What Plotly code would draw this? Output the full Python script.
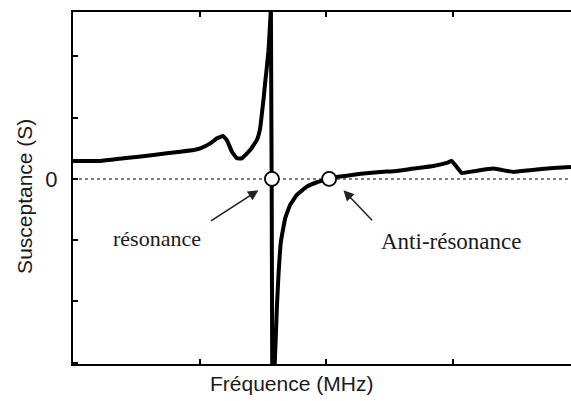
import plotly.graph_objects as go

# Frequency (arbitrary units, one unit per axis tick) and susceptance (arbitrary units)
freq = [0.0, 0.215, 0.40, 0.636, 0.847, 0.952, 1.005, 1.085, 1.137, 1.184, 1.215, 1.255,
        1.294, 1.334, 1.399, 1.452, 1.478, 1.492, 1.504, 1.517, 1.531, 1.544, 1.552, 1.563,
        1.573, 1.577, 1.593, 1.610, 1.623, 1.642, 1.676, 1.715, 1.768, 1.847, 1.926, 1.991,
        2.023, 2.084, 2.189, 2.242, 2.294, 2.425, 2.557, 2.688, 2.846, 2.952, 2.991,
        3.070, 3.162, 3.320, 3.478, 3.609, 3.793, 3.933]
susceptance = [0.293, 0.293, 0.337, 0.391, 0.445, 0.472, 0.500, 0.581, 0.663, 0.700, 0.635, 0.445,
               0.337, 0.337, 0.472, 0.635, 0.826, 1.070, 1.287, 1.559, 1.829, 2.101, 2.373, 2.76,
               -2.9, -3.40, -3.03, -2.106, -1.564, -1.021, -0.640, -0.423, -0.261, -0.125, -0.054, -0.016,
               0.0, 0.033, 0.060, 0.077, 0.088, 0.114, 0.130, 0.169, 0.212, 0.261, 0.293,
               0.098, 0.125, 0.169, 0.114, 0.142, 0.179, 0.195]

point_freq = [1.571, 2.023]
point_b = [0.0, 0.0]
point_names = ["résonance", "Anti-résonance"]

x_ticks = [0, 1, 2, 3]
y_ticks = [-3, -2, -1, 0, 1, 2]
y_ticktext = ["", "", "", "0", "", ""]

x_range = [0.0, 3.933]
y_range = [-3.021, 2.725]

fig = go.Figure()

# zero reference line
fig.add_trace(go.Scatter(x=x_range, y=[0, 0], mode="lines",
                         line=dict(color="#555555", width=1.5, dash="dot"),
                         hoverinfo="skip", showlegend=False))

fig.add_trace(go.Scatter(x=freq, y=susceptance, mode="lines",
                         line=dict(color="black", width=4, shape="spline", smoothing=0.3),
                         showlegend=False, cliponaxis=True))

fig.add_trace(go.Scatter(x=point_freq, y=point_b, mode="markers",
                         marker=dict(size=14, color="white",
                                     line=dict(color="black", width=1.8)),
                         text=point_names, showlegend=False, cliponaxis=False))

serif = "Liberation Serif, Times New Roman, serif"
sans = "Liberation Sans, Arial, sans-serif"

# labels with arrows
fig.add_annotation(x=1.465, y=-0.184, ax=1.078, ay=-0.700, xref="x", yref="y",
                   axref="x", ayref="y", text="", showarrow=True,
                   arrowhead=2, arrowsize=1.4, arrowwidth=1.5, arrowcolor="#222222", standoff=0)
fig.add_annotation(x=2.136, y=-0.184, ax=2.373, ay=-0.700, xref="x", yref="y",
                   axref="x", ayref="y", text="", showarrow=True,
                   arrowhead=2, arrowsize=1.4, arrowwidth=1.5, arrowcolor="#222222", standoff=0)
fig.add_annotation(x=0.665, y=-0.966, xref="x", yref="y", text=point_names[0],
                   showarrow=False, font=dict(family=serif, size=22, color="#1a1a1a"))
fig.add_annotation(x=2.986, y=-1.015, xref="x", yref="y", text=point_names[1],
                   showarrow=False, font=dict(family=serif, size=23, color="#1a1a1a"))

# axis titles
fig.add_annotation(x=0.438, y=-0.0553, xref="paper", yref="paper", text="Fréquence (MHz)",
                   xanchor="center", yanchor="middle",
                   showarrow=False, font=dict(family=sans, size=21, color="#1a1a1a"))
fig.add_annotation(x=-0.0964, y=0.4776, xref="paper", yref="paper", text="Susceptance (S)",
                   xanchor="center", yanchor="middle",
                   textangle=-90, showarrow=False, font=dict(family=sans, size=21, color="#1a1a1a"))

fig.update_xaxes(range=x_range, showgrid=False, zeroline=False, showline=True,
                 linecolor="black", linewidth=2, mirror="ticks", ticks="inside",
                 ticklen=5, tickwidth=2, tickcolor="black", tickvals=x_ticks,
                 showticklabels=False)
fig.update_yaxes(range=y_range, showgrid=False, zeroline=False, showline=True,
                 linecolor="black", linewidth=2, ticks="inside", ticklen=5,
                 tickwidth=1.5, tickcolor="black", tickvals=y_ticks, ticktext=y_ticktext,
                 tickfont=dict(family=sans, size=22, color="#1a1a1a"), ticklabelstandoff=9)

fig.update_layout(width=571, height=401, margin=dict(l=73, r=0, t=12, b=37),
                  plot_bgcolor="white", paper_bgcolor="white")

fig.write_html("out.html", config={"displayModeBar": False},
               post_script="document.body.style.margin='0';document.body.style.overflow='hidden';")
